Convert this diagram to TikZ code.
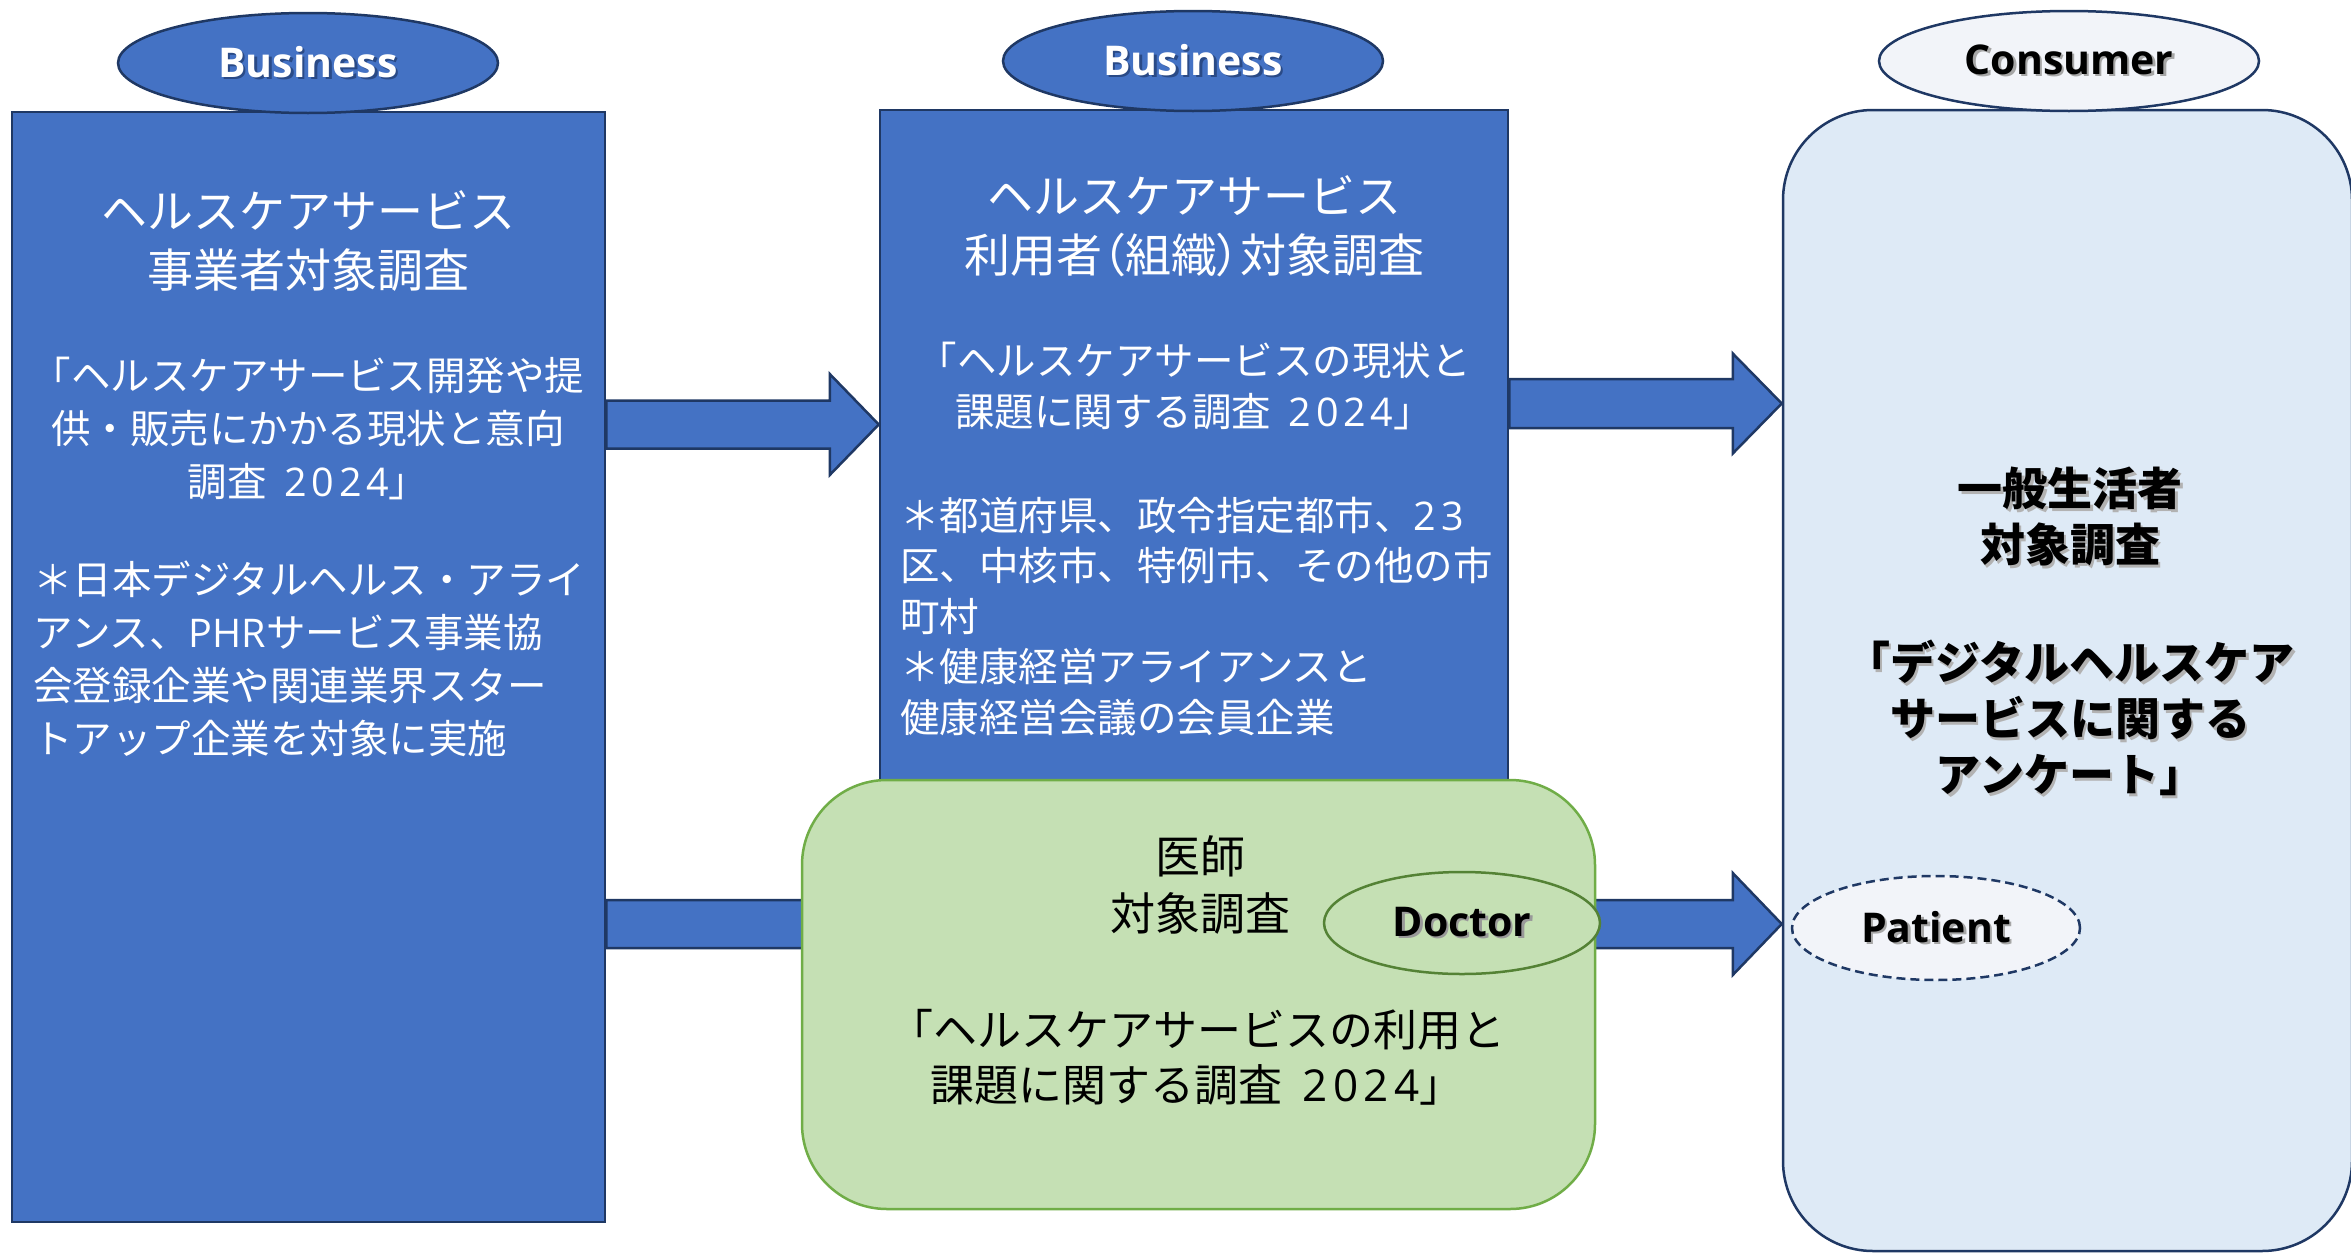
\documentclass[tikz,border=0pt]{standalone}
\usepackage{fontspec}
\setmainfont{Noto Sans CJK JP}
\newfontfamily\latinfont{Open Sans}
\newfontfamily\digitfont{Open Sans}[LetterSpace=12]
\usetikzlibrary{shapes.geometric,calc}

\definecolor{bluefill}{HTML}{4472C4}
\definecolor{navy}{HTML}{1F3864}
\definecolor{palesky}{HTML}{DEEAF6}
\definecolor{mist}{HTML}{F2F4F9}
\definecolor{leaf}{HTML}{C5E0B4}
\definecolor{leafline}{HTML}{70AD47}
\definecolor{moss}{HTML}{548235}
\definecolor{deepshade}{HTML}{2A4A86}

% text with a soft drop shadow
\newcommand\shadowed[2]{\makebox[0pt][l]{\hspace{2.5pt}\raisebox{-2.5pt}{\textcolor{#1}{#2}}}#2}
% western digits and letters inside Japanese text
\newcommand\num[1]{{\digitfont #1}}
\newcommand\lat[1]{{\latinfont #1}}
% narrow brackets
\newcommand\nbr[1]{{\addfontfeatures{RawFeature=+palt}#1}}

\newcommand\fsHead{\fontsize{46}{59}\selectfont}
\newcommand\fsBody{\fontsize{39.5}{53}\selectfont}
\newcommand\fsTag{\latinfont\bfseries\fontsize{41}{41}\selectfont}

% wide block arrow from tail point #1 to tip point #2
% #3 shaft half height, #4 head half height, #5 head length
\newcommand\blockarrow[5]{%
  \draw[arrowbody] let \p1=(#1), \p2=(#2) in
    (\x1,\y2+#3) -- (\x2-#5,\y2+#3) -- (\x2-#5,\y2+#4) -- (\x2,\y2)
    -- (\x2-#5,\y2-#4) -- (\x2-#5,\y2-#3) -- (\x1,\y2-#3) -- cycle;}

\begin{document}
\begin{tikzpicture}[x=1pt,y=-1pt,
  bluebox/.style={rectangle, draw=navy, line width=2.5pt, fill=bluefill, inner sep=0pt},
  palebox/.style={rectangle, draw=navy, line width=2.5pt, fill=palesky, inner sep=0pt, rounded corners=90pt},
  greenbox/.style={rectangle, draw=leafline, line width=2.5pt, fill=leaf, inner sep=0pt, rounded corners=85pt},
  arrowbody/.style={draw=navy, line width=2.5pt, fill=bluefill, line join=miter},
  tag/.style={ellipse, draw=navy, line width=2.5pt, inner sep=0pt, minimum width=380pt, minimum height=100pt, font=\fsTag},
  wtxt/.style={inner sep=0pt, text=white, align=center},
  ktxt/.style={inner sep=0pt, text=black, align=center},
]
\useasboundingbox (0,0) rectangle (2351,1253);
\clip (0,0) rectangle (2351,1253);
\fill[white] (0,0) rectangle (2351,1253);

% main boxes
\node[bluebox, minimum width=593pt, minimum height=1110pt] (L) at (308.5,667) {};
\node[bluebox, minimum width=628pt, minimum height=676pt] (M) at (1194,448) {};
\node[palebox, minimum width=569pt, minimum height=1141pt] (R) at (2067.5,680.5) {};

% arrow levels
\coordinate (lvA) at (0,424.5);
\coordinate (lvB) at (0,403.5);
\coordinate (lvC) at (0,924);

\blockarrow{L.east |- lvA}{M.west |- lvA}{24pt}{50.5pt}{49pt}
\blockarrow{M.east |- lvB}{R.west |- lvB}{24.5pt}{50pt}{49pt}
\blockarrow{L.east |- lvC}{R.west |- lvC}{24pt}{51pt}{49pt}

% doctor survey box
\node[greenbox, minimum width=793pt, minimum height=429pt] (G) at (1198.5,994.5) {};

% category tags
\node[tag, fill=bluefill, text=white] (tagA) at (308,63) {\shadowed{deepshade}{Business}};
\node[tag, fill=bluefill, text=white] (tagB) at (1193,61) {\shadowed{deepshade}{Business}};
\node[tag, fill=mist] (tagC) at (2069,61) {\shadowed{black!35}{Consumer}};
\node[tag, fill=leaf, draw=moss, minimum width=276pt, minimum height=102pt] (tagD) at (1462,923) {\shadowed{black!40}{Doctor}};
\node[tag, fill=mist, dash pattern=on 9pt off 5pt, minimum width=288pt, minimum height=104pt] (tagP) at (1936,928) {\shadowed{black!35}{Patient}};

% provider survey
\node[wtxt, font=\fsHead, anchor=north] (Lh) at (308,190) {ヘルスケアサービス\\事業者対象調査};
\node[wtxt, font=\fsBody, anchor=north] (Lq) at (308,357) {「ヘルスケアサービス開発や提\\供・販売にかかる現状と意向\\調査\hspace{0.45em}\num{2024}」};
\node[wtxt, font=\fsBody, anchor=north west, align=left] (Ln) at (33,561) {＊日本デジタルヘルス・アライ\\アンス、\lat{PHR}サービス事業協\\会登録企業や関連業界スター\\トアップ企業を対象に実施};

% organisation survey
\node[wtxt, font=\fsHead, anchor=north] (Mh) at (1194,175) {ヘルスケアサービス\\利用者\nbr{（}組織\nbr{）}対象調査};
\node[wtxt, font=\fontsize{39.5}{51}\selectfont, anchor=north] (Mq) at (1194,342) {「ヘルスケアサービスの現状と\\課題に関する調査\hspace{0.45em}\num{2024}」};
\node[wtxt, font=\fontsize{39.5}{50.6}\selectfont, anchor=north west, align=left] (Mn) at (900,496.5) {＊都道府県、政令指定都市、\num{23}\\区、中核市、特例市、その他の市\\町村\\＊健康経営アライアンスと\\健康経営会議の会員企業};

% doctor survey
\node[ktxt, font=\fontsize{45}{57}\selectfont, anchor=north] (Gh) at (1200,835) {医師\\対象調査};
\node[ktxt, font=\fontsize{44}{55}\selectfont, anchor=north] (Gq) at (1197,1009) {「ヘルスケアサービスの利用と\\課題に関する調査\hspace{0.45em}\num{2024}」};

% consumer survey
\node[ktxt, font=\bfseries\fontsize{45}{56}\selectfont, anchor=north] (Rh) at (2070,467) {\shadowed{black!30}{一般生活者}\\\shadowed{black!30}{対象調査}};
\node[ktxt, font=\bfseries\fontsize{45}{56}\selectfont, anchor=north] (Rq) at (2070,640) {\shadowed{black!30}{「デジタルヘルスケア}\\\shadowed{black!30}{サービスに関する}\\\shadowed{black!30}{アンケート」}};
\end{tikzpicture}
\end{document}
